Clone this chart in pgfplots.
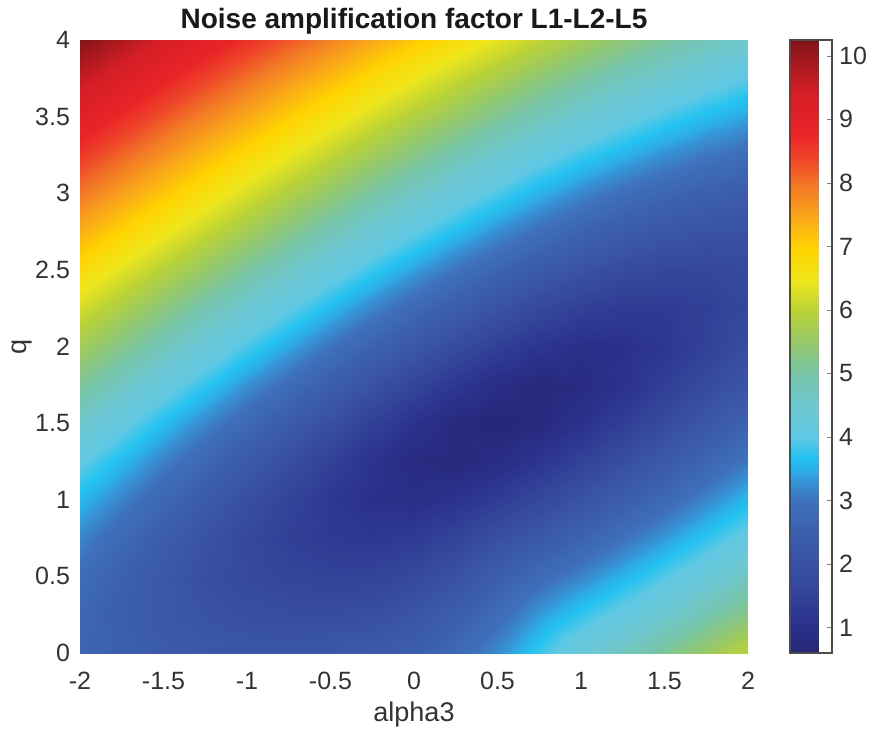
\documentclass[border=0pt]{standalone}
\usepackage{pgfplots}
\pgfplotsset{compat=1.18}
\usepackage{fontspec}
\setmainfont{Liberation Sans}
\pgfplotsset{
  colormap={refmap}{
    rgb255(0pt)=(38,38,118);
    rgb255(4pt)=(42,48,138);
    rgb255(9pt)=(50,66,152);
    rgb255(14pt)=(57,82,163);
    rgb255(19pt)=(60,95,172);
    rgb255(24pt)=(62,113,188);
    rgb255(27pt)=(55,145,212);
    rgb255(29pt)=(44,175,232);
    rgb255(31pt)=(36,195,240);
    rgb255(34pt)=(95,200,228);
    rgb255(39pt)=(110,200,210);
    rgb255(44pt)=(118,196,170);
    rgb255(49pt)=(148,200,108);
    rgb255(54pt)=(185,210,55);
    rgb255(59pt)=(238,230,28);
    rgb255(64pt)=(255,212,0);
    rgb255(69pt)=(250,168,25);
    rgb255(74pt)=(243,120,38);
    rgb255(78pt)=(238,72,40);
    rgb255(82pt)=(234,36,40);
    rgb255(89pt)=(212,30,38);
    rgb255(97pt)=(128,20,24)
  }
}
\begin{document}
\begin{tikzpicture}
\begin{axis}[
  view={0}{90},
  scale only axis, width=334pt, height=306.5pt,
  xmin=-2, xmax=2, ymin=0, ymax=4,
  enlargelimits=false,
  xtick={-2,-1.5,-1,-0.5,0,0.5,1,1.5,2},
  ytick={0,0.5,1,1.5,2,2.5,3,3.5,4},
  ztick=\empty,
  axis line style={draw=none},
  major tick length=0pt,
  /pgf/number format/assume math mode=true,
  tick label style={font=\fontsize{12.5}{14}\selectfont, text=black!80},
  xticklabel style={yshift=-6pt},
  yticklabel style={xshift=-1.5pt},
  xlabel={alpha3}, ylabel={q},
  label style={font=\fontsize{13.5}{16}\selectfont, text=black!80},
  xlabel style={at={(axis description cs:0.5,-0.101)}, anchor=center},
  ylabel style={at={(axis description cs:-0.087,0.5)}, anchor=center},
  colormap name=refmap,
  point meta min=0.6, point meta max=10.25,
  colorbar,
  colorbar style={
    width=21pt,
    at={(parent axis.north east)}, anchor=north west, xshift=12.5pt,
    ytick={1,2,3,4,5,6,7,8,9,10},
    /pgf/number format/assume math mode=true,
    yticklabel style={font=\fontsize{12.5}{14}\selectfont, text=black!80},
    axis line style={draw=black!70, line width=0.6pt},
    tick align=inside, major tick length=2.5pt,
    ytick pos=right, yticklabel pos=right,
  },
]
\addplot3[surf, shader=interp, mesh/rows=17, mesh/cols=17] coordinates {
(-2,0,2.65) (-1.75,0,2.47) (-1.5,0,2.32) (-1.25,0,2.22) (-1,0,2.16) (-0.75,0,2.16) (-0.5,0,2.21) (-0.25,0,2.30) (0,0,2.44) (0.25,0,2.79) (0.5,0,3.24) (0.75,0,3.78) (1,0,4.35) (1.25,0,4.73) (1.5,0,5.13) (1.75,0,5.55) (2,0,6.00)

(-2,0.25,2.70) (-1.75,0.25,2.41) (-1.5,0.25,2.17) (-1.25,0.25,2.01) (-1,0.25,1.89) (-0.75,0.25,1.83) (-0.5,0.25,1.83) (-0.25,0.25,1.89) (0,0.25,2.08) (0.25,0.25,2.41) (0.5,0.25,2.84) (0.75,0.25,3.35) (1,0.25,3.76) (1.25,0.25,4.12) (1.5,0.25,4.50) (1.75,0.25,4.90) (2,0.25,5.30)

(-2,0.5,2.88) (-1.75,0.5,2.51) (-1.5,0.5,2.19) (-1.25,0.5,1.90) (-1,0.5,1.70) (-0.75,0.5,1.57) (-0.5,0.5,1.51) (-0.25,0.5,1.53) (0,0.5,1.69) (0.25,0.5,1.99) (0.5,0.5,2.40) (0.75,0.5,2.82) (1,0.5,3.17) (1.25,0.5,3.54) (1.5,0.5,3.92) (1.75,0.5,4.30) (2,0.5,4.70)

(-2,0.75,3.18) (-1.75,0.75,2.77) (-1.5,0.75,2.37) (-1.25,0.75,2.00) (-1,0.75,1.67) (-0.75,0.75,1.42) (-0.5,0.75,1.27) (-0.25,0.75,1.21) (0,0.75,1.30) (0.25,0.75,1.54) (0.5,0.75,1.91) (0.75,0.75,2.24) (1,0.75,2.59) (1.25,0.75,2.97) (1.5,0.75,3.35) (1.75,0.75,3.74) (2,0.75,4.13)

(-2,1,3.58) (-1.75,1,3.15) (-1.5,1,2.71) (-1.25,1,2.29) (-1,1,1.88) (-0.75,1,1.52) (-0.5,1,1.21) (-0.25,1,1.00) (0,1,0.94) (0.25,1,1.08) (0.5,1,1.35) (0.75,1,1.67) (1,1,2.03) (1.25,1,2.40) (1.5,1,2.79) (1.75,1,3.19) (2,1,3.59)

(-2,1.25,4.05) (-1.75,1.25,3.60) (-1.5,1.25,3.15) (-1.25,1.25,2.70) (-1,1.25,2.26) (-0.75,1.25,1.85) (-0.5,1.25,1.44) (-0.25,1.25,1.07) (0,1.25,0.79) (0.25,1.25,0.71) (0.5,1.25,0.85) (0.75,1.25,1.14) (1,1.25,1.49) (1.25,1.25,1.87) (1.5,1.25,2.26) (1.75,1.25,2.66) (2,1.25,3.06)

(-2,1.5,4.57) (-1.75,1.5,4.11) (-1.5,1.5,3.65) (-1.25,1.5,3.20) (-1,1.5,2.75) (-0.75,1.5,2.31) (-0.5,1.5,1.88) (-0.25,1.5,1.46) (0,1.5,1.07) (0.25,1.5,0.74) (0.5,1.5,0.60) (0.75,1.5,0.73) (1,1.5,1.03) (1.25,1.5,1.39) (1.5,1.5,1.77) (1.75,1.5,2.17) (2,1.5,2.57)

(-2,1.75,5.12) (-1.75,1.75,4.66) (-1.5,1.75,4.20) (-1.25,1.75,3.75) (-1,1.75,3.29) (-0.75,1.75,2.85) (-0.5,1.75,2.41) (-0.25,1.75,1.98) (0,1.75,1.57) (0.25,1.75,1.19) (0.5,1.75,0.87) (0.75,1.75,0.71) (1,1.75,0.79) (1.25,1.75,1.05) (1.5,1.75,1.39) (1.75,1.75,1.76) (2,1.75,2.15)

(-2,2,5.66) (-1.75,2,5.22) (-1.5,2,4.78) (-1.25,2,4.32) (-1,2,3.87) (-0.75,2,3.43) (-0.5,2,2.99) (-0.25,2,2.57) (0,2,2.16) (0.25,2,1.77) (0.5,2,1.41) (0.75,2,1.13) (1,2,0.97) (1.25,2,1.00) (1.5,2,1.19) (1.75,2,1.48) (2,2,1.82)

(-2,2.25,6.23) (-1.75,2.25,5.78) (-1.5,2.25,5.35) (-1.25,2.25,4.91) (-1,2.25,4.47) (-0.75,2.25,4.03) (-0.5,2.25,3.60) (-0.25,2.25,3.18) (0,2.25,2.77) (0.25,2.25,2.38) (0.5,2.25,2.01) (0.75,2.25,1.68) (1,2.25,1.44) (1.25,2.25,1.29) (1.5,2.25,1.29) (1.75,2.25,1.42) (2,2.25,1.66)

(-2,2.5,6.80) (-1.75,2.5,6.36) (-1.5,2.5,5.93) (-1.25,2.5,5.50) (-1,2.5,5.06) (-0.75,2.5,4.65) (-0.5,2.5,4.21) (-0.25,2.5,3.79) (0,2.5,3.39) (0.25,2.5,2.99) (0.5,2.5,2.63) (0.75,2.5,2.29) (1,2.5,2.00) (1.25,2.5,1.78) (1.5,2.5,1.64) (1.75,2.5,1.62) (2,2.5,1.71)

(-2,2.75,7.39) (-1.75,2.75,6.95) (-1.5,2.75,6.53) (-1.25,2.75,6.10) (-1,2.75,5.67) (-0.75,2.75,5.25) (-0.5,2.75,4.83) (-0.25,2.75,4.42) (0,2.75,4.02) (0.25,2.75,3.63) (0.5,2.75,3.25) (0.75,2.75,2.91) (1,2.75,2.59) (1.25,2.75,2.33) (1.5,2.75,2.13) (1.75,2.75,2.00) (2,2.75,1.97)

(-2,3,7.98) (-1.75,3,7.55) (-1.5,3,7.13) (-1.25,3,6.70) (-1,3,6.27) (-0.75,3,5.86) (-0.5,3,5.45) (-0.25,3,5.04) (0,3,4.65) (0.25,3,4.26) (0.5,3,3.89) (0.75,3,3.53) (1,3,3.21) (1.25,3,2.92) (1.5,3,2.68) (1.75,3,2.49) (2,3,2.37)

(-2,3.25,8.53) (-1.75,3.25,8.11) (-1.5,3.25,7.70) (-1.25,3.25,7.27) (-1,3.25,6.86) (-0.75,3.25,6.45) (-0.5,3.25,6.05) (-0.25,3.25,5.65) (0,3.25,5.26) (0.25,3.25,4.88) (0.5,3.25,4.51) (0.75,3.25,4.15) (1,3.25,3.82) (1.25,3.25,3.53) (1.5,3.25,3.26) (1.75,3.25,3.04) (2,3.25,2.86)

(-2,3.5,9.09) (-1.75,3.5,8.67) (-1.5,3.5,8.26) (-1.25,3.5,7.85) (-1,3.5,7.45) (-0.75,3.5,7.04) (-0.5,3.5,6.64) (-0.25,3.5,6.25) (0,3.5,5.87) (0.25,3.5,5.50) (0.5,3.5,5.13) (0.75,3.5,4.78) (1,3.5,4.45) (1.25,3.5,4.14) (1.5,3.5,3.86) (1.75,3.5,3.61) (2,3.5,3.40)

(-2,3.75,9.65) (-1.75,3.75,9.24) (-1.5,3.75,8.83) (-1.25,3.75,8.43) (-1,3.75,8.03) (-0.75,3.75,7.63) (-0.5,3.75,7.25) (-0.25,3.75,6.86) (0,3.75,6.49) (0.25,3.75,6.11) (0.5,3.75,5.76) (0.75,3.75,5.40) (1,3.75,5.07) (1.25,3.75,4.76) (1.5,3.75,4.47) (1.75,3.75,4.20) (2,3.75,3.96)

(-2,4,10.21) (-1.75,4,9.81) (-1.5,4,9.41) (-1.25,4,9.01) (-1,4,8.62) (-0.75,4,8.23) (-0.5,4,7.85) (-0.25,4,7.47) (0,4,7.10) (0.25,4,6.73) (0.5,4,6.38) (0.75,4,6.03) (1,4,5.70) (1.25,4,5.38) (1.5,4,5.08) (1.75,4,4.80) (2,4,4.55)
};
\end{axis}
\node[anchor=base, font=\fontsize{14}{16}\selectfont\bfseries, text=black!90]
  at (167pt,312pt) {Noise amplification factor L1-L2-L5};
\pgfresetboundingbox
\path[use as bounding box] (-40pt,-40pt) rectangle (398pt,326.5pt);
\end{tikzpicture}
\end{document}
